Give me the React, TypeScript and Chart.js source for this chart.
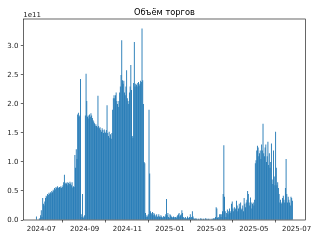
import { useEffect, useRef } from "react";
import { Chart, registerables } from "chart.js";

Chart.register(...registerables);

const TITLE = "Объём торгов";
const OFFSET_LABEL = "1e11";
const UNIT = 1e11;

// Daily trading volume, in units of 1e11; each array starts on its start date
const JUN_2024 = [0.06, 0.0, 0.01, 0.0, 0.02, 0.03, 0.08];
const JUL_2024 = [0.17, 0.05, 0.38, 0.28, 0.25, 0.32, 0.38, 0.42, 0.40, 0.45, 0.43, 0.47, 0.45, 0.48, 0.46, 0.50, 0.48, 0.52, 0.50, 0.55, 0.53, 0.57, 0.55, 0.58, 0.56, 0.55, 0.57, 0.56, 0.58, 0.55, 0.57];
const AUG_2024 = [0.6, 0.65, 0.78, 0.62, 0.64, 0.63, 0.65, 0.6, 0.64, 0.62, 0.66, 0.63, 0.6, 0.65, 0.56, 0.58, 0.57, 1.12, 0.9, 1.22, 1.05, 1.82, 1.85, 1.78, 1.8, 2.43, 0.1, 0.05, 0.45, 0.04, 0.06];
const SEP_2024 = [0.08, 1.8, 2.52, 2.05, 1.78, 1.8, 1.75, 1.82, 1.78, 1.84, 1.8, 1.76, 1.72, 1.7, 1.67, 1.62, 1.65, 1.62, 1.6, 2.14, 1.62, 1.58, 1.6, 1.55, 1.52, 1.58, 1.55, 1.5, 1.56, 1.52];
const OCT_2024 = [1.5, 1.55, 1.98, 1.5, 1.45, 1.52, 1.42, 1.48, 1.4, 1.5, 1.9, 2.1, 2.15, 2.1, 2.15, 2.2, 2.05, 2.0, 1.95, 2.05, 2.2, 2.3, 2.5, 3.1, 2.41, 2.35, 2.4, 2.2, 2.15, 2.3, 2.58];
const NOV_2024 = [2.1, 2.05, 2.0, 2.2, 2.3, 2.67, 2.24, 1.45, 1.42, 2.36, 3.07, 2.3, 2.35, 2.33, 2.3, 2.36, 2.38, 2.32, 2.35, 2.4, 2.38, 3.3, 2.41, 2.0, 1.0, 0.98, 0.12, 0.05, 0.08, 0.06];
const DEC_2024 = [0.1, 1.9, 0.8, 0.15, 0.12, 0.1, 0.14, 0.08, 0.12, 0.1, 0.06, 0.08, 0.1, 0.05, 0.07, 0.1, 0.06, 0.05, 0.08, 0.06, 0.04, 0.05, 0.07, 0.05, 0.06, 0.1, 0.36, 0.08, 0.12, 0.05, 0.04];
const JAN_2025 = [0.1, 0.08, 0.06, 0.05, 0.04, 0.06, 0.05, 0.03, 0.05, 0.04, 0.06, 0.08, 0.1, 0.12, 0.06, 0.08, 0.1, 0.17, 0.12, 0.05, 0.04, 0.03, 0.05, 0.02, 0.03, 0.06, 0.04, 0.03, 0.05, 0.1, 0.04];
const FEB_2025 = [0.05, 0.15, 0.06, 0.03, 0.02, 0.02, 0.03, 0.02, 0.01, 0.02, 0.02, 0.01, 0.02, 0.03, 0.02, 0.01, 0.02, 0.02, 0.01, 0.02, 0.03, 0.02, 0.01, 0.02, 0.02, 0.01, 0.02, 0.01];
const MAR_2025 = [0.02, 0.01, 0.02, 0.03, 0.02, 0.03, 0.05, 0.22, 0.2, 0.04, 0.05, 0.03, 0.1, 0.1, 0.05, 0.1, 0.15, 0.45, 1.29, 0.4, 0.15, 0.05, 0.12, 0.18, 0.1, 0.15, 0.2, 0.12, 0.15, 0.28, 0.32];
const APR_2025 = [0.2, 0.15, 0.22, 0.18, 0.2, 0.33, 0.25, 0.15, 0.2, 0.28, 0.22, 0.3, 0.18, 0.2, 0.25, 0.15, 0.38, 0.28, 0.22, 0.3, 0.35, 0.5, 0.45, 0.3, 0.25, 0.39, 0.3, 0.2, 0.28, 0.3];
const MAY_2025 = [0.25, 0.35, 0.98, 1.03, 1.2, 1.28, 1.25, 1.1, 1.15, 1.2, 1.05, 1.3, 1.2, 1.66, 1.15, 1.1, 1.25, 1.3, 1.0, 1.1, 1.35, 0.95, 1.15, 0.9, 1.0, 1.32, 0.7, 0.62, 1.2, 0.75, 0.6];
const JUN_2025 = [1.52, 0.9, 0.6, 0.65, 0.55, 0.45, 0.3, 0.35, 0.28, 0.3, 0.38, 0.42, 0.35, 0.3, 0.55, 1.05, 0.45, 0.3, 0.4, 0.35, 0.3, 0.25, 0.4, 0.38, 0.33];

const SERIES_STARTS = ["2024-06-24", "2024-07-01", "2024-08-01", "2024-09-01", "2024-10-01", "2024-11-01", "2024-12-01", "2025-01-01", "2025-02-01", "2025-03-01", "2025-04-01", "2025-05-01", "2025-06-01"];
const SERIES = [JUN_2024, JUL_2024, AUG_2024, SEP_2024, OCT_2024, NOV_2024, DEC_2024, JAN_2025, FEB_2025, MAR_2025, APR_2025, MAY_2025, JUN_2025];

const X_TICKS = ["2024-07", "2024-09", "2024-11", "2025-01", "2025-03", "2025-05", "2025-07"];
const Y_TICKS = [0, 0.5, 1.0, 1.5, 2.0, 2.5, 3.0];

const DAY = 86400000;
const parseDate = (s: string) => {
  const [y, m, d] = s.split("-").map(Number);
  return Date.UTC(y, m - 1, d || 1);
};

export default function App() {
  const ref = useRef<HTMLCanvasElement>(null);

  useEffect(() => {
    document.body.style.margin = "0";
    const points: { x: number; y: number }[] = [];
    SERIES.forEach((vals, i) => {
      const start = parseDate(SERIES_STARTS[i]);
      vals.forEach((v, j) => points.push({ x: start + j * DAY, y: v * UNIT }));
    });
    const lo = points[0].x - 0.4 * DAY;
    const hi = points[points.length - 1].x + 0.4 * DAY;
    const margin = (hi - lo) * 0.05;
    const yMax = Math.max(...points.map((p) => p.y)) * 1.05;
    const font = { family: "DejaVu Sans", size: 7 };

    const framePlugin = {
      id: "frame",
      afterDraw(chart: any) {
        const { ctx, chartArea } = chart;
        const { left, top, right, bottom } = chartArea;
        ctx.save();
        ctx.strokeStyle = "#000";
        ctx.lineWidth = 0.6;
        ctx.strokeRect(left, top, right - left, bottom - top);
        ctx.fillStyle = "#000";
        ctx.font = '8.3px "DejaVu Sans"';
        ctx.textAlign = "center";
        ctx.textBaseline = "alphabetic";
        ctx.fillText(TITLE, (left + right) / 2, top - 4.2);
        ctx.font = '7px "DejaVu Sans"';
        ctx.fillStyle = "#222";
        ctx.textAlign = "left";
        ctx.fillText(OFFSET_LABEL, left, top - 2.1);
        ctx.restore();
      },
    };

    const chart = new Chart(ref.current!, {
      type: "bar",
      data: {
        datasets: [
          {
            data: points as any,
            backgroundColor: "#1f77b4",
            borderWidth: 0,
            barThickness: 0.9,
            inflateAmount: 0,
            grouped: false,
          } as any,
        ],
      },
      options: {
        animation: false,
        responsive: false,
        maintainAspectRatio: false,
        devicePixelRatio: 1,
        events: [],
        layout: { padding: { top: 19, right: 14.5, left: 0, bottom: 0 } },
        plugins: {
          legend: { display: false },
          title: { display: false },
          tooltip: { enabled: false },
        },
        scales: {
          x: {
            type: "linear",
            min: lo - margin,
            max: hi + margin,
            offset: false,
            border: { display: false },
            grid: { display: true, drawOnChartArea: false, tickLength: 2.5, tickWidth: 0.6, tickColor: "#000" },
            ticks: {
              autoSkip: false,
              maxRotation: 0,
              minRotation: 0,
              padding: 2,
              color: "#222",
              font,
              callback: (v: any) => {
                const d = new Date(Number(v));
                return `${d.getUTCFullYear()}-${String(d.getUTCMonth() + 1).padStart(2, "0")}`;
              },
            },
            afterBuildTicks: (s: any) => {
              s.ticks = X_TICKS.map((t) => ({ value: parseDate(t) }));
            },
            afterFit: (s: any) => {
              s.height = 20;
            },
          },
          y: {
            type: "linear",
            min: 0,
            max: yMax,
            border: { display: false },
            grid: { display: true, drawOnChartArea: false, tickLength: 2.5, tickWidth: 0.6, tickColor: "#000" },
            ticks: {
              padding: 2.4,
              color: "#222",
              font,
              callback: (v: any) => (Number(v) / UNIT).toFixed(1),
            },
            afterBuildTicks: (s: any) => {
              s.ticks = Y_TICKS.map((t) => ({ value: t * UNIT }));
            },
            afterFit: (s: any) => {
              s.width = 23.3;
            },
          },
        } as any,
      },
      plugins: [framePlugin],
    });
    return () => chart.destroy();
  }, []);

  return (
    <div style={{ position: "absolute", left: 0, top: 0, width: 320, height: 240, background: "#fff" }}>
      <canvas ref={ref} width={320} height={240} style={{ display: "block", width: 320, height: 240 }} />
    </div>
  );
}
